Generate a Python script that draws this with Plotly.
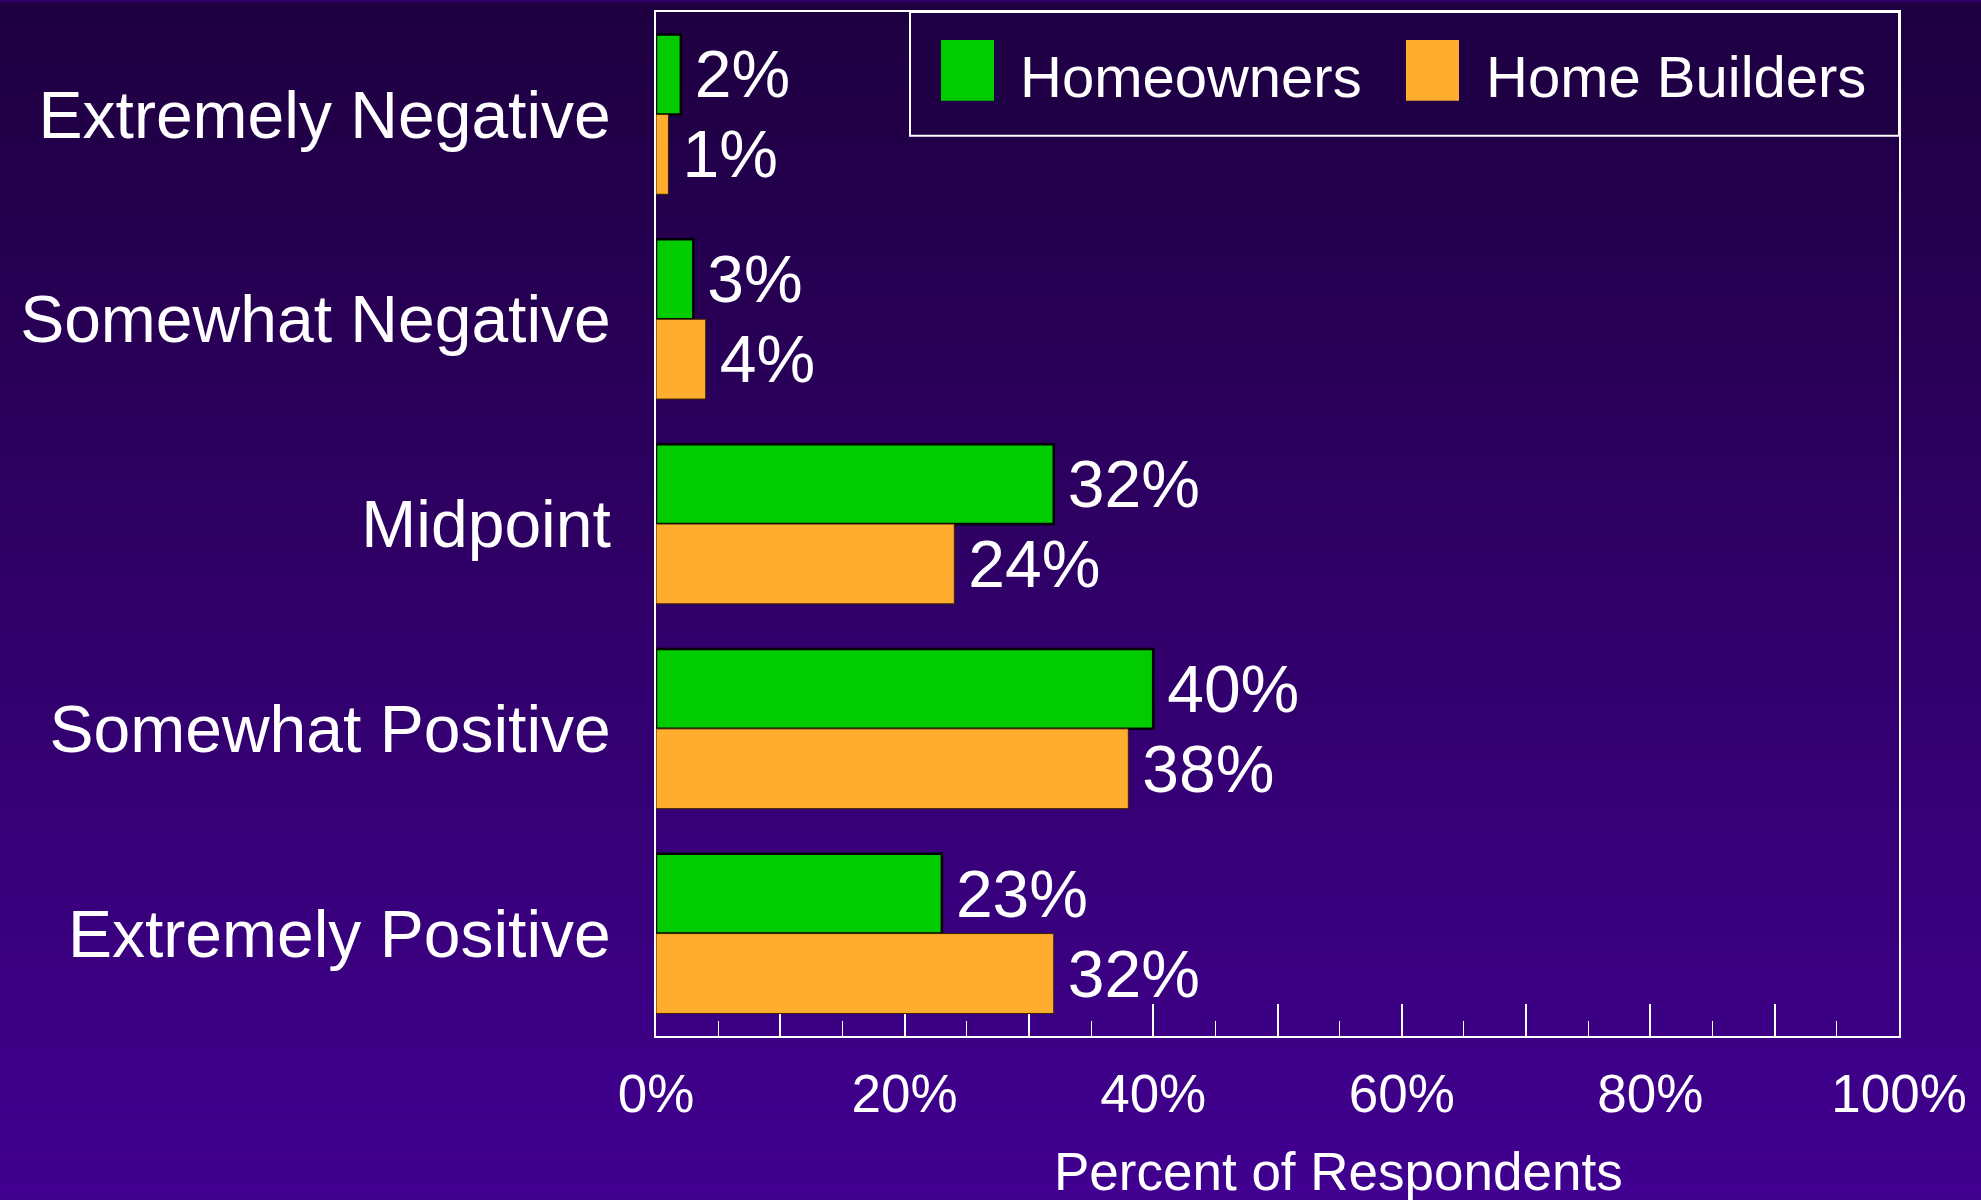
import base64
import struct
import zlib

import plotly.graph_objects as go

categories = ['Extremely Negative', 'Somewhat Negative', 'Midpoint',
              'Somewhat Positive', 'Extremely Positive']
homeowners = [2, 3, 32, 40, 23]
home_builders = [1, 4, 24, 38, 32]
series_names = ['Homeowners', 'Home Builders']
tick_values = [0, 10, 20, 30, 40, 50, 60, 70, 80, 90, 100]
tick_labels = ['0%', '', '20%', '', '40%', '', '60%', '', '80%', '', '100%']

W, H = 1981, 1200
ML, MR, MT, MB = 656, 82, 10, 164
PW, PH = W - ML - MR, H - MT - MB

GREEN = '#00CC00'
ORANGE = '#FFAD2F'
FONT = 'Liberation Sans, Arial, sans-serif'


def px_x(x):
    return (x - ML) / PW


def px_y(y):
    return (H - MB - y) / PH


def gradient_png(top, bottom, n=256):
    rows = b''
    for i in range(n):
        t = i / (n - 1)
        c = [round(a + (b - a) * t) for a, b in zip(top, bottom)]
        rows += b'\x00' + bytes(c)
    def chunk(tag, data):
        return struct.pack('>I', len(data)) + tag + data + struct.pack('>I', zlib.crc32(tag + data) & 0xffffffff)
    png = b'\x89PNG\r\n\x1a\n'
    png += chunk(b'IHDR', struct.pack('>IIBBBBB', 1, n, 8, 2, 0, 0, 0))
    png += chunk(b'IDAT', zlib.compress(rows))
    png += chunk(b'IEND', b'')
    return 'data:image/png;base64,' + base64.b64encode(png).decode()


fig = go.Figure()

# small leading space keeps a gap between bar end and its label
fig.add_trace(go.Bar(
    y=categories, x=homeowners, name=series_names[0], orientation='h',
    marker=dict(color=GREEN, line=dict(color='#000000', width=2.5)),
    text=[f'\u2006{v}%' for v in homeowners], textposition='outside',
    textfont=dict(color='white', size=66, family=FONT),
    constraintext='none', cliponaxis=False, showlegend=False
))
fig.add_trace(go.Bar(
    y=categories, x=home_builders, name=series_names[1], orientation='h',
    marker=dict(color=ORANGE, line=dict(color='#3a2000', width=1)),
    text=[f'\u2006{v}%' for v in home_builders], textposition='outside',
    textfont=dict(color='white', size=66, family=FONT),
    constraintext='none', cliponaxis=False, showlegend=False
))

# hand-drawn legend box (big swatches like the original)
shapes = [
    dict(type='rect', xref='paper', yref='paper',
         x0=px_x(910), x1=px_x(1899), y0=px_y(134), y1=px_y(10),
         fillcolor='#200044', line=dict(color='white', width=2)),
    dict(type='rect', xref='paper', yref='paper',
         x0=px_x(941), x1=px_x(994), y0=px_y(99), y1=px_y(38),
         fillcolor=GREEN, line=dict(width=0)),
    dict(type='rect', xref='paper', yref='paper',
         x0=px_x(1406), x1=px_x(1459), y0=px_y(99), y1=px_y(38),
         fillcolor=ORANGE, line=dict(width=0)),
]
annotations = [
    dict(text=series_names[0], xref='paper', yref='paper', x=px_x(1018), y=px_y(75),
         xanchor='left', yanchor='middle', showarrow=False,
         font=dict(color='white', size=58, family=FONT)),
    dict(text=series_names[1], xref='paper', yref='paper', x=px_x(1484), y=px_y(75),
         xanchor='left', yanchor='middle', showarrow=False,
         font=dict(color='white', size=58, family=FONT)),
    dict(text='Percent of Respondents', xref='paper', yref='paper', x=px_x(1338), y=px_y(1172),
         xanchor='center', yanchor='middle', showarrow=False,
         font=dict(color='white', size=53, family=FONT)),
]

fig.update_layout(
    width=W, height=H,
    margin=dict(l=ML, r=MR, t=MT, b=MB),
    paper_bgcolor='#2f0068',
    plot_bgcolor='rgba(0,0,0,0)',
    barmode='group',
    bargap=0.22,
    bargroupgap=0,
    font=dict(family=FONT, color='white'),
    shapes=shapes,
    annotations=annotations,
    images=[dict(source=gradient_png((30, 0, 64), (65, 0, 144)),
                 xref='paper', yref='paper', x=px_x(0), y=px_y(0),
                 sizex=W / PW, sizey=H / PH, sizing='stretch',
                 xanchor='left', yanchor='top', layer='below')],
    xaxis=dict(
        range=[0, 100], tickvals=tick_values, ticktext=tick_labels,
        ticks='inside', ticklen=32, tickwidth=1.5, tickcolor='white',
        minor=dict(dtick=5, ticks='inside', ticklen=15, tickwidth=1, tickcolor='white'),
        showgrid=False, zeroline=False, showline=True, mirror=True,
        linecolor='white', linewidth=2, layer='below traces',
        tickfont=dict(size=53, color='white', family=FONT),
        ticklabelstandoff=10
    ),
    yaxis=dict(
        categoryorder='array', categoryarray=categories,
        range=[4.5, -0.5], ticks='', showgrid=False, zeroline=False,
        showline=True, mirror=True, linecolor='white', linewidth=2,
        layer='below traces',
        tickfont=dict(size=66, color='white', family=FONT),
        ticklabelstandoff=30
    ),
)

fig.write_html('out.html', config={'displayModeBar': False},
               post_script="document.body.style.margin='0';")
